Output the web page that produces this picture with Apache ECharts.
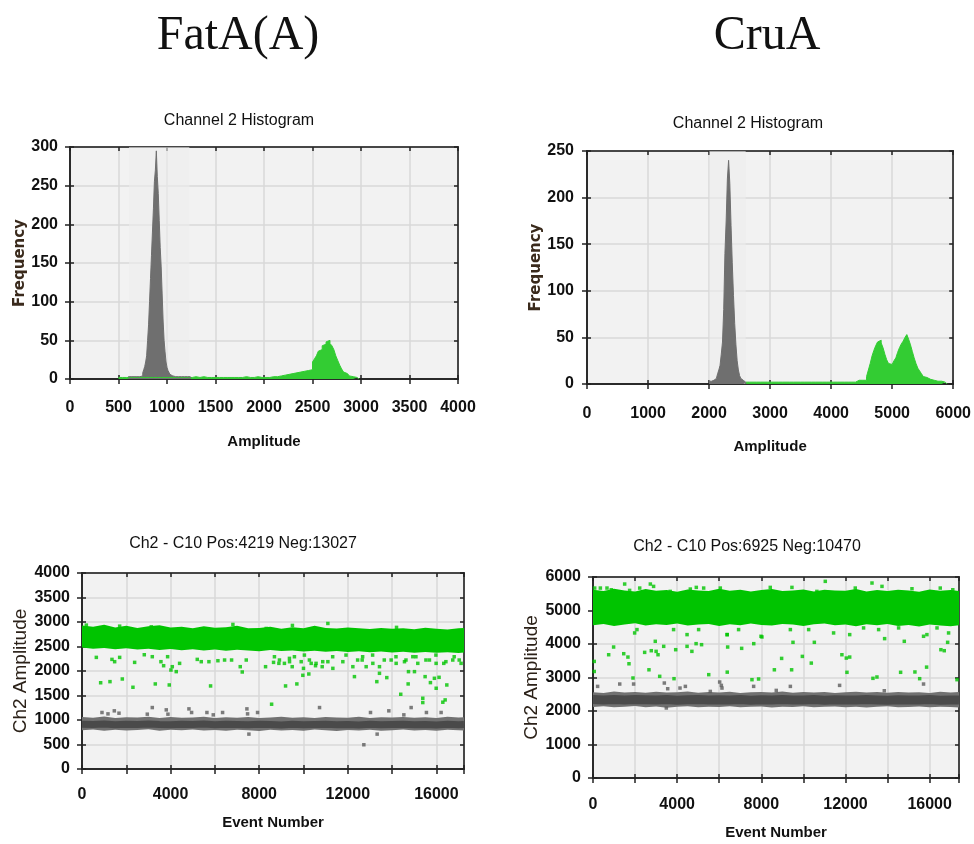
<!DOCTYPE html>
<html>
<head>
<meta charset="utf-8">
<script src="https://cdn.jsdelivr.net/npm/echarts@6/dist/echarts.min.js"></script>
<style>
  html, body { margin: 0; background: #fff; }
  #chart { width: 974px; height: 844px; }
</style>
</head>
<body>
<div id="chart"></div>
<script>
// ---------- histogram data (counts per bin) ----------
// FatA(A): negative cluster, bins of 10 starting at 600
const fatNegStart = 600, fatNegBin = 10;
const fatNegCounts = [3,3,3,3,3,3,3,3,3,3, 3,3,3,4,
  4,8,12,16,22,30,50,70,100,130, 160,190,220,255,270,295,262,240,205,170,
  145,110,75,50,35,22,15,11,9,6, 5,
  4,4,3,3,3,3,3,3,3,3,3,3,3,3,3,3,3,3,3];
// FatA(A): positive cluster, bins of 20 starting at 500
const fatPosStart = 500, fatPosBin = 20;
const fatPosCounts = [2,2,2,2,2,
  2,2,2,2,2,2,2,2,2,2, 2,2,2,2,2,2,2,2,2,2, 2,2,2,2,2,2,2,2,2,2, 2,2,
  2,2,3,2,2,2,3,2,2,2, 2,3,2,2,2,2,2,3,2,2, 2,2,2,3,2,2,2,2,3,2, 2,2,2,2,3,2,2,2,2,3, 2,2,3,2,3,3,
  4,3,5,4,6,5,7,6,8,7, 9,8,10,9,11,10,12, 22,26,30,36,38,43,45,48,50,46,
  43,38,30,24,18,13,9,7,5,4, 3,3,2,2];
const fatShade = [608, 1230];

// CruA: negative cluster, bins of 20 starting at 2000
const cruNegStart = 2000, cruNegBin = 20;
const cruNegCounts = [3,3,4,4,5,6,8,11,15,20, 32,45,80,140,175,220,240,215,170,130,
  95,65,42,25,15,9,6,4,3,2];
// CruA: positive cluster, bins of 30 starting at 2600
const cruPosStart = 2600, cruPosBin = 30;
const cruPosCounts = [2,2,2,2,2,2,2,2,2,2, 2,2,2,2,2,2,2,2,2,2, 2,2,2,2,2,2,2,2,2,2,
  2,2,2,2,2,2,2,2,2,2, 2,2,2,2,2,2,3,2,2,2, 2,2,2,2,2,2,3,2,3,2,
  3,4,3,4,5,4,8,15,22,30, 36,41,45,47,44,39,32,26,22,21,
  23,25,28,34,39,43,46,50,53,48, 42,35,28,22,17,14,11,8,7,6,
  5,4,4,4,3,3,3,3,2,2];
const cruShade = [2005, 2600];

// ---------- droplet scatter data ----------
const fatEvents = 17246;   // Pos 4219 + Neg 13027
const cruEvents = 17395;   // Pos 6925 + Neg 10470

// dense cluster bands: edges sampled along event number
const fatBandX = [0,500,1000,1500,2000,2500,3000,3500,4000,4500,5000,5500,6000,6500,7000,7500,8000,8500,
  9000,9500,10000,10500,11000,11500,12000,12500,13000,13500,14000,14500,15000,15500,16000,16500,17000,17246];
const fatPosHi = [2930,2905,2945,2890,2925,2880,2915,2935,2890,2905,2870,2915,2885,2895,2925,2875,2880,2905,
  2860,2895,2870,2925,2880,2865,2890,2870,2855,2880,2860,2875,2850,2885,2860,2845,2870,2880];
const fatPosLo = [2480,2455,2470,2445,2465,2440,2455,2430,2450,2425,2445,2420,2440,2415,2435,2420,2405,2430,
  2410,2420,2400,2415,2395,2410,2390,2405,2385,2400,2380,2395,2375,2390,2370,2385,2365,2380];
const fatNegHi = [1060,1045,1070,1040,1055,1050,1065,1040,1060,1045,1050,1065,1040,1055,1045,1060,1040,1050,
  1065,1045,1055,1040,1060,1050,1045,1065,1040,1055,1050,1060,1045,1055,1040,1065,1050,1055];
const fatNegLo = [790,805,780,800,785,795,810,780,800,790,805,785,795,780,800,790,775,800,
  785,795,780,805,790,775,795,785,800,780,790,805,785,795,780,800,790,785];
const fatNegCore = [915,910,920,905,915,910,920,910,905,915,910,920,905,915,910,905,915,910,
  900,915,905,910,915,905,910,900,915,905,910,915,905,910,900,915,905,910];

const cruBandX = [0,500,1000,1500,2000,2500,3000,3500,4000,4500,5000,5500,6000,6500,7000,7500,8000,8500,
  9000,9500,10000,10500,11000,11500,12000,12500,13000,13500,14000,14500,15000,15500,16000,16500,17000,17395];
const cruPosHi = [5620,5580,5650,5600,5570,5640,5590,5610,5560,5630,5600,5580,5650,5590,5620,5570,5610,5640,
  5580,5600,5630,5570,5620,5600,5590,5640,5570,5610,5580,5620,5600,5560,5630,5590,5610,5580];
const cruPosLo = [4560,4600,4540,4580,4620,4550,4590,4570,4610,4550,4580,4600,4540,4590,4560,4610,4570,4550,
  4600,4580,4540,4590,4610,4560,4580,4530,4590,4560,4600,4540,4570,4520,4580,4550,4530,4560];
const cruNegHi = [2560,2540,2580,2550,2570,2545,2575,2550,2560,2585,2545,2565,2550,2575,2540,2560,2570,2550,
  2580,2545,2565,2555,2570,2540,2560,2575,2550,2565,2545,2570,2555,2560,2540,2575,2550,2565];
const cruNegLo = [2120,2140,2110,2130,2150,2115,2135,2100,2125,2140,2110,2130,2120,2145,2110,2125,2135,2105,
  2130,2120,2140,2110,2125,2135,2115,2130,2105,2125,2140,2115,2120,2135,2110,2130,2120,2105];
const cruNegCore = [2340,2330,2345,2325,2340,2335,2330,2345,2320,2335,2340,2325,2335,2330,2345,2320,2335,2330,
  2340,2325,2330,2340,2320,2335,2330,2325,2340,2330,2320,2335,2325,2330,2340,2320,2330,2325];

// individual droplets outside the dense bands: [event, amplitude]
const fatPosPoints = [
  [196,2936],[1700,2915],[3128,2902],[6813,2950],[8317,2868],[11100,2970],[9500,2930],[14200,2890],
  [647,2278],[1353,2237],[1474,2190],[1700,2278],[2376,2176],[2812,2332],[3173,2292],[3564,2190],[3685,2108],
  [3865,2292],[4076,2088],[4406,2156],[5204,2237],[5384,2190],[5730,2190],[6136,2210],[6437,2224],[6753,2224],
  [7144,2088],[7415,2224],[8287,2088],[8648,2176],[8889,2156],[9370,2190],[9490,2088],[9896,2190],[10347,2156],
  [10543,2108],[10844,2088],[11100,2190],[11325,2054],[11776,2190],[12228,2088],[12649,2224],[12829,2088],
  [13130,2156],[13430,2088],[13957,2224],[14183,2156],[14559,2190],[14935,2292],[15160,2156],[15686,2224],
  [15987,2156],[16333,2156],[16739,2224],[17115,2156],
  [8688,2291],[8914,2224],[9139,2156],[9365,2258],[9590,2291],[10041,2325],[10266,2224],[10567,2156],
  [10868,2190],[11317,2291],[11919,2325],[12444,2224],[12670,2291],[13120,2325],[13647,2224],[14175,2291],
  [14626,2224],[15076,2291],[15527,2224],[15978,2325],[16429,2190],[16803,2291],[17029,2224],
  [842,1760],[1263,1783],[1820,1837],[2300,1668],[3309,1736],[3940,1715],[4015,2020],[4255,1987],[5805,1695],
  [7235,1980],[8560,1322],[9190,1695],[9700,1736],[9970,1912],[10000,2054],[10240,1939],[12300,1885],
  [13310,1783],[13430,1953],[13760,1865],[14390,1525],[14725,1736],[14740,1987],[15010,1987],[15385,1444],
  [15385,1356],[15490,1885],[15730,1763],[15910,1851],[15990,1648],[16120,1871],[16290,1363],[16395,1410],
  [16470,1715]
];
const fatNegPoints = [
  [902,1153],[1173,1125],[1459,1187],[1670,1139],[2948,1119],[3173,1254],[3805,1207],[3880,1119],[4828,1227],
  [4948,1153],[5640,1153],[5926,1105],[6347,1153],[7445,1227],[7475,1125],[7926,1153],[10724,1254],[13025,1153],
  [13852,1187],[14860,1254],[15550,1153],[16213,1153],[14530,1105],
  [7535,712],[12724,495],[13325,712]
];
const cruPosPoints = [
  [80,5670],[350,5670],[665,5670],[870,5620],[1505,5790],[1740,5600],[2220,5670],[2725,5790],[2880,5720],
  [3670,5570],[4625,5640],[4910,5690],[5260,5670],[6050,5670],[8425,5690],[9455,5690],[10640,5570],[11040,5870],
  [12465,5670],[13260,5820],[13735,5720],[15160,5650],[16505,5670],[17100,5620],
  [1980,4330],[2090,4430],[3830,4430],[4470,4280],[5020,4430],[6370,4280],[6920,4430],[7985,4230],[9380,4430],
  [10250,4430],[11435,4330],[12200,4280],[12860,4480],[13575,4430],[13860,4160],[14525,4480],[15710,4230],
  [15870,4280],[16350,4480],[16900,4330],
  [60,3480],[60,3180],[745,3680],[980,3910],[1460,3710],[1660,3610],[1710,3410],[1900,2985],[2455,3750],
  [2660,3230],[2770,3800],[2960,4080],[3000,3780],[3090,3680],[3170,3035],[3360,3930],[3850,2965],[3930,3830],
  [4470,3930],[4700,3780],[4900,4010],[5160,3980],[5500,3085],[6380,4280],[6380,3160],[6400,3910],[7065,3870],
  [7555,2935],[7640,4010],[7870,2955],[8030,4210],[8620,3230],[8965,3570],[9440,3230],[9505,4050],[9950,3630],
  [10375,3430],[10520,4050],[11830,3680],[12040,3580],[12070,3155],[12200,3610],[13305,2975],[13495,3015],
  [14620,3155],[14795,4080],[15300,3165],[15525,2965],[15855,3310],[16535,3830],[16695,3800],[16855,4050],
  [17300,2935]
];
const cruNegPoints = [
  [220,2735],[1270,2805],[1930,2805],[3390,2835],[3550,2665],[4135,2685],[4390,2735],[5575,2585],[6020,2865],
  [6100,2765],[6130,2685],[7635,2735],[8710,2615],[9380,2735],[11720,2765],[15710,2805],[13845,2605],[3485,2090]
];

// ---------- styling helpers ----------
const SANS = "'Liberation Sans',Arial,sans-serif";
const AXIS_LINE = { color: '#222', width: 1.5 };
const GREEN_HIST = '#33cc33', GRAY_HIST = '#6f6f6f';
const GREEN_DOT = '#00c400', GRAY_DOT = '#5c5c5c';

const freqName = { fontFamily: "'DejaVu Sans',sans-serif", fontWeight: 'bold', fontSize: 15, color: '#3a2a1c' };
const ampName = { fontFamily: SANS, fontSize: 19, color: '#2b2118' };
const xName = { fontFamily: SANS, fontWeight: 'bold', fontSize: 15, color: '#111' };

const plainFmt = v => String(v);
const eventFmt = v => (v % 4000 === 0 ? String(v) : '');

function axisSet(dim, gi, o) {
  const base = { type: 'value', gridIndex: gi, min: o.min, max: o.max, interval: o.interval };
  const pos = dim === 'x' ? ['bottom', 'top'] : ['left', 'right'];
  const main = Object.assign({}, base, {
    position: pos[0],
    name: o.name, nameLocation: 'middle', nameGap: o.gap, nameTextStyle: o.nameStyle,
    axisLine: { show: true, onZero: false, lineStyle: AXIS_LINE },
    axisTick: { show: true, length: 5, lineStyle: AXIS_LINE },
    axisLabel: {
      margin: o.margin, formatter: o.fmt || plainFmt,
      fontFamily: SANS, fontWeight: 'bold', fontSize: 16, color: '#111'
    },
    splitLine: { show: true, lineStyle: { color: '#d9d9d9', width: 1.5 } }
  });
  // extra axes only for the inward tick marks (and the box on top / right)
  const inner = pos.map(p => Object.assign({}, base, {
    position: p,
    axisLine: { show: true, onZero: false, lineStyle: AXIS_LINE },
    axisTick: { show: true, inside: true, length: 4, lineStyle: AXIS_LINE },
    axisLabel: { show: false },
    splitLine: { show: false }
  }));
  return [main].concat(inner);
}

function histSeries(gi, start, bin, counts, color, shade) {
  const data = counts.map((c, i) => [start + i * bin, c]);
  data.push([start + counts.length * bin, 0]);
  const s = {
    type: 'line', step: 'end', xAxisIndex: gi * 3, yAxisIndex: gi * 3,
    data: data, symbol: 'none', silent: true,
    lineStyle: { color: color, width: 1 },
    areaStyle: { color: color, opacity: 1 }
  };
  if (shade) {
    s.markArea = {
      silent: true,
      itemStyle: { color: 'rgba(236,236,236,0.6)' },
      data: [[{ xAxis: shade[0] }, { xAxis: shade[1] }]]
    };
  }
  return s;
}

function bandSeries(gi, xs, lo, hi, color) {
  return {
    type: 'custom', xAxisIndex: gi * 3, yAxisIndex: gi * 3, silent: true,
    data: [[xs[0], lo[0]]],
    renderItem: function (params, api) {
      const pts = xs.map((x, i) => api.coord([x, hi[i]]));
      for (let i = xs.length - 1; i >= 0; i--) pts.push(api.coord([xs[i], lo[i]]));
      return { type: 'polygon', shape: { points: pts }, style: { fill: color } };
    }
  };
}

function coreSeries(gi, xs, core, width) {
  return {
    type: 'line', xAxisIndex: gi * 3, yAxisIndex: gi * 3, silent: true, symbol: 'none',
    data: xs.map((x, i) => [x, core[i]]),
    lineStyle: { color: '#4a4a4a', width: width }
  };
}

function dotSeries(gi, pts, color) {
  return {
    type: 'scatter', xAxisIndex: gi * 3, yAxisIndex: gi * 3, silent: true,
    symbol: 'rect', symbolSize: 3.5, data: pts, itemStyle: { color: color }
  };
}

// ---------- chart ----------
const grids = [
  { left: 70, top: 147, width: 388, height: 232 },
  { left: 587, top: 151, width: 371, height: 233 },
  { left: 82, top: 573, width: 382, height: 196 },
  { left: 593, top: 577, width: 366, height: 201 }
].map(g => Object.assign(g, { show: true, backgroundColor: '#f2f2f2', borderColor: '#222', borderWidth: 1.5 }));

const xAxes = [].concat(
  axisSet('x', 0, { min: 0, max: 4000, interval: 500, margin: 21, name: 'Amplitude', gap: 55, nameStyle: xName }),
  axisSet('x', 1, { min: 0, max: 6000, interval: 1000, margin: 22, name: 'Amplitude', gap: 55, nameStyle: xName }),
  axisSet('x', 2, { min: 0, max: fatEvents, interval: 2000, margin: 18, name: 'Event Number', gap: 46, nameStyle: xName, fmt: eventFmt }),
  axisSet('x', 3, { min: 0, max: cruEvents, interval: 2000, margin: 19, name: 'Event Number', gap: 47, nameStyle: xName, fmt: eventFmt })
);
const yAxes = [].concat(
  axisSet('y', 0, { min: 0, max: 300, interval: 50, margin: 12, name: 'Frequency', gap: 42, nameStyle: freqName }),
  axisSet('y', 1, { min: 0, max: 250, interval: 50, margin: 13, name: 'Frequency', gap: 35, nameStyle: freqName }),
  axisSet('y', 2, { min: 0, max: 4000, interval: 500, margin: 12, name: 'Ch2 Amplitude', gap: 44, nameStyle: ampName }),
  axisSet('y', 3, { min: 0, max: 6000, interval: 1000, margin: 12, name: 'Ch2 Amplitude', gap: 41, nameStyle: ampName })
);

const series = [
  histSeries(0, fatPosStart, fatPosBin, fatPosCounts, GREEN_HIST),
  histSeries(0, fatNegStart, fatNegBin, fatNegCounts, GRAY_HIST, fatShade),
  histSeries(1, cruPosStart, cruPosBin, cruPosCounts, GREEN_HIST),
  histSeries(1, cruNegStart, cruNegBin, cruNegCounts, GRAY_HIST, cruShade),

  bandSeries(2, fatBandX, fatPosLo, fatPosHi, GREEN_DOT),
  bandSeries(2, fatBandX, fatNegLo, fatNegHi, '#717171'),
  coreSeries(2, fatBandX, fatNegCore, 7),
  dotSeries(2, fatPosPoints, GREEN_DOT),
  dotSeries(2, fatNegPoints, GRAY_DOT),

  bandSeries(3, cruBandX, cruPosLo, cruPosHi, GREEN_DOT),
  bandSeries(3, cruBandX, cruNegLo, cruNegHi, '#717171'),
  coreSeries(3, cruBandX, cruNegCore, 9),
  dotSeries(3, cruPosPoints, GREEN_DOT),
  dotSeries(3, cruNegPoints, GRAY_DOT)
];

function label(x, y, text, font) {
  return {
    type: 'text', x: x, y: y, silent: true,
    style: { text: text, font: font, fill: '#111', align: 'center', verticalAlign: 'middle',
             textAlign: 'center', textVerticalAlign: 'middle' }
  };
}

const chart = echarts.init(document.getElementById('chart'));
chart.setOption({
  animation: false,
  backgroundColor: '#fff',
  grid: grids,
  xAxis: xAxes,
  yAxis: yAxes,
  series: series,
  graphic: [
    label(238, 36, 'FatA(A)', "48px 'Liberation Serif','Times New Roman',serif"),
    label(767, 36, 'CruA', "48px 'Liberation Serif','Times New Roman',serif"),
    label(239, 121, 'Channel 2 Histogram', "16px " + SANS),
    label(748, 124, 'Channel 2 Histogram', "16px " + SANS),
    label(243, 544, 'Ch2 - C10 Pos:4219 Neg:13027', "16px " + SANS),
    label(747, 547, 'Ch2 - C10 Pos:6925 Neg:10470', "16px " + SANS)
  ]
});
</script>
</body>
</html>
